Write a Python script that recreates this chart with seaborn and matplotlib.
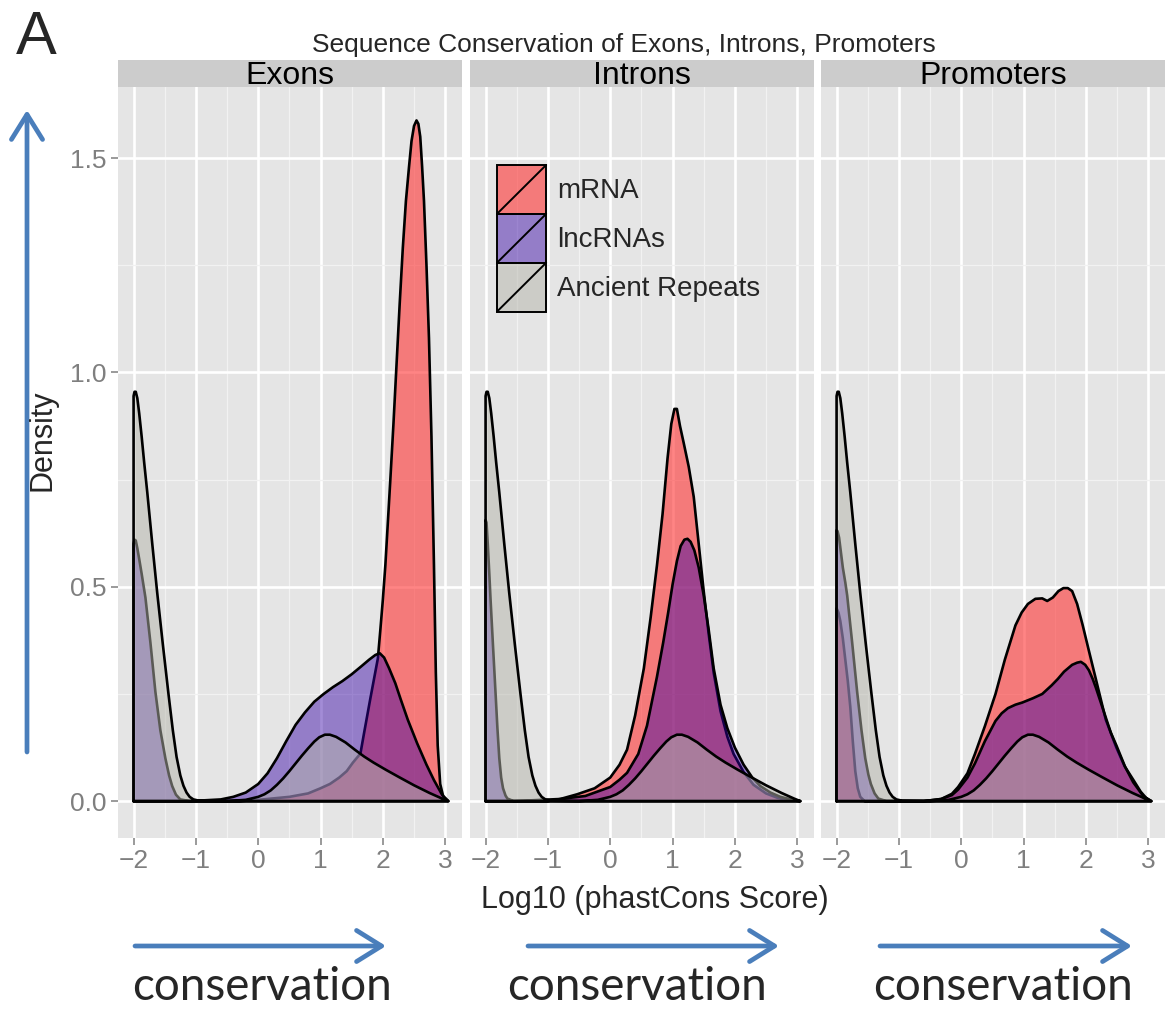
import matplotlib
matplotlib.use("Agg")
import matplotlib.pyplot as plt
import seaborn as sns
from matplotlib.patches import Rectangle, FancyArrowPatch
from matplotlib.lines import Line2D
from matplotlib.legend_handler import HandlerBase

# ---------------- data ----------------
panels = ["Exons", "Introns", "Promoters"]
series = ["mRNA", "lncRNAs", "Ancient Repeats"]
x_ticks = [-2, -1, 0, 1, 2, 3]
x_minor = [-1.5, -0.5, 0.5, 1.5, 2.5]
y_ticks = [0.0, 0.5, 1.0, 1.5]
y_minor = [0.25, 0.75, 1.25]
y_tick_labels = ["0.0", "0.5", "1.0", "1.5"]

# Ancient repeats (same in every panel)
ar_x = [-2, -1.985, -1.965, -1.94, -1.91, -1.87, -1.83, -1.78, -1.70, -1.62, -1.53,
        -1.44, -1.37, -1.31, -1.25, -1.2, -1.15, -1.1, -1.04, -0.95, -0.5, -0.2, 0.0,
        0.1, 0.2, 0.3, 0.4, 0.5, 0.6, 0.7, 0.8, 0.9, 0.98, 1.07, 1.15, 1.25, 1.4,
        1.55, 1.7, 1.85, 2.05, 2.26, 2.5, 2.75, 2.95, 3.05]
ar_y = [0.945, 0.955, 0.955, 0.94, 0.905, 0.85, 0.79, 0.72, 0.60, 0.485, 0.365,
        0.25, 0.165, 0.103, 0.06, 0.036, 0.02, 0.01, 0.004, 0.001, 0.0, 0.003, 0.01,
        0.016, 0.025, 0.038, 0.053, 0.07, 0.088, 0.106, 0.123, 0.139, 0.149, 0.155,
        0.155, 0.15, 0.137, 0.12, 0.104, 0.09, 0.073, 0.056, 0.037, 0.019, 0.006, 0.0]

# Exons
exons_mrna_x = [-2, -1.0, -0.3, 0.0, 0.5, 0.8, 1.0, 1.15, 1.3, 1.42, 1.52, 1.64, 1.7,
                1.8, 1.92, 1.96, 2.0, 2.04, 2.08, 2.12, 2.17, 2.22, 2.27, 2.32, 2.37,
                2.42, 2.46, 2.5, 2.54, 2.57, 2.6, 2.63, 2.66, 2.7, 2.74, 2.78, 2.82,
                2.85, 2.88, 2.92, 2.97, 3.05]
exons_mrna_y = [0.0, 0.0, 0.0, 0.003, 0.01, 0.018, 0.03, 0.04, 0.055, 0.07, 0.09, 0.111,
                0.16, 0.24, 0.333, 0.4, 0.47, 0.55, 0.65, 0.75, 0.88, 1.02, 1.16, 1.29,
                1.40, 1.48, 1.54, 1.575, 1.588, 1.58, 1.55, 1.48, 1.40, 1.25, 1.08, 0.85,
                0.55, 0.3, 0.13, 0.04, 0.01, 0.0]
exons_lnc_x = [-2, -1.985, -1.965, -1.94, -1.91, -1.87, -1.81, -1.73, -1.65, -1.57,
               -1.49, -1.43, -1.38, -1.32, -1.25, -1.1, -0.6, -0.4, -0.2, 0.0, 0.15, 0.3,
               0.45, 0.6, 0.75, 0.9, 1.05, 1.2, 1.35, 1.5, 1.65, 1.78, 1.88, 1.95, 2.02,
               2.1, 2.2, 2.29, 2.4, 2.55, 2.7, 2.82, 2.95, 3.05]
exons_lnc_y = [0.6, 0.61, 0.608, 0.59, 0.565, 0.53, 0.475, 0.37, 0.255, 0.165, 0.1,
               0.06, 0.035, 0.015, 0.004, 0.0, 0.004, 0.01, 0.02, 0.04, 0.065, 0.1, 0.14,
               0.178, 0.207, 0.232, 0.25, 0.266, 0.28, 0.296, 0.314, 0.33, 0.341, 0.345,
               0.335, 0.31, 0.275, 0.236, 0.19, 0.135, 0.085, 0.049, 0.015, 0.0]

# Introns
introns_mrna_x = [-2, -1.0, -0.8, -0.53, -0.25, 0.0, 0.15, 0.27, 0.4, 0.54, 0.65, 0.75,
                  0.84, 0.92, 0.98, 1.03, 1.07, 1.12, 1.18, 1.26, 1.34, 1.42, 1.5, 1.58,
                  1.66, 1.77, 1.88, 1.98, 2.14, 2.3, 2.5, 2.68, 2.85, 3.05]
introns_mrna_y = [0.0, 0.0, 0.005, 0.016, 0.03, 0.055, 0.085, 0.12, 0.2, 0.31, 0.43,
                  0.55, 0.67, 0.8, 0.88, 0.915, 0.915, 0.875, 0.835, 0.78, 0.71, 0.6,
                  0.49, 0.39, 0.3, 0.21, 0.15, 0.11, 0.068, 0.038, 0.018, 0.008, 0.003,
                  0.0]
introns_lnc_x = [-2, -1.985, -1.965, -1.94, -1.92, -1.88, -1.84, -1.81, -1.78, -1.75,
                 -1.72, -1.68, -1.65, -1.55, -0.8, -0.4, 0.0, 0.15, 0.27, 0.45, 0.59,
                 0.75, 0.85, 0.93, 1.0, 1.07, 1.13, 1.19, 1.24, 1.29, 1.35, 1.42, 1.5,
                 1.58, 1.66, 1.77, 1.88, 2.0, 2.14, 2.28, 2.41, 2.57, 2.73, 2.9, 3.05]
introns_lnc_y = [0.656, 0.65, 0.6, 0.53, 0.47, 0.36, 0.252, 0.17, 0.1, 0.055, 0.03,
                 0.013, 0.006, 0.0, 0.005, 0.012, 0.033, 0.05, 0.066, 0.11, 0.176, 0.29,
                 0.37, 0.44, 0.505, 0.56, 0.595, 0.61, 0.612, 0.605, 0.585, 0.545, 0.48,
                 0.4, 0.31, 0.225, 0.17, 0.125, 0.085, 0.055, 0.035, 0.02, 0.01, 0.004,
                 0.0]

# Promoters
promoters_mrna_x = [-2, -1.97, -1.94, -1.9, -1.86, -1.82, -1.78, -1.74, -1.7, -1.66,
                    -1.62, -1.55, -0.6, -0.32, -0.15, -0.05, 0.1, 0.22, 0.38, 0.55, 0.7,
                    0.87, 0.97, 1.07, 1.19, 1.3, 1.38, 1.47, 1.56, 1.64, 1.71, 1.78,
                    1.86, 1.95, 2.05, 2.16, 2.32, 2.49, 2.62, 2.76, 2.88, 2.97, 3.05]
promoters_mrna_y = [0.45, 0.44, 0.42, 0.38, 0.33, 0.28, 0.22, 0.14, 0.07, 0.03, 0.01,
                    0.0, 0.0, 0.005, 0.017, 0.033, 0.065, 0.11, 0.175, 0.25, 0.33, 0.41,
                    0.44, 0.46, 0.472, 0.473, 0.467, 0.475, 0.49, 0.497, 0.497, 0.49,
                    0.46, 0.41, 0.35, 0.285, 0.19, 0.125, 0.082, 0.05, 0.022, 0.007, 0.0]
promoters_lnc_x = [-2, -1.985, -1.96, -1.93, -1.9, -1.86, -1.83, -1.75, -1.67, -1.6,
                   -1.54, -1.49, -1.45, -1.39, -1.33, -1.2, -0.6, -0.32, -0.15, -0.05,
                   0.1, 0.22, 0.38, 0.55, 0.65, 0.75, 0.87, 0.98, 1.15, 1.3, 1.45, 1.55,
                   1.65, 1.78, 1.86, 1.92, 1.99, 2.05, 2.11, 2.16, 2.24, 2.32, 2.4, 2.49,
                   2.63, 2.76, 2.92, 3.05]
promoters_lnc_y = [0.632, 0.63, 0.615, 0.58, 0.545, 0.51, 0.48, 0.37, 0.255, 0.165,
                   0.1, 0.062, 0.04, 0.018, 0.006, 0.0, 0.0, 0.005, 0.014, 0.027, 0.055,
                   0.088, 0.14, 0.187, 0.205, 0.217, 0.225, 0.23, 0.24, 0.25, 0.27,
                   0.285, 0.302, 0.318, 0.323, 0.325, 0.318, 0.305, 0.285, 0.265, 0.23,
                   0.195, 0.16, 0.13, 0.08, 0.044, 0.012, 0.0]

curves = {
    "Exons": [(exons_mrna_x, exons_mrna_y), (exons_lnc_x, exons_lnc_y), (ar_x, ar_y)],
    "Introns": [(introns_mrna_x, introns_mrna_y), (introns_lnc_x, introns_lnc_y), (ar_x, ar_y)],
    "Promoters": [(promoters_mrna_x, promoters_mrna_y), (promoters_lnc_x, promoters_lnc_y), (ar_x, ar_y)],
}

# ---------------- style ----------------
sns.set_theme(style="darkgrid", rc={"axes.facecolor": "#E5E5E5", "grid.color": "white"})
plt.rcParams["font.family"] = ["Liberation Sans", "DejaVu Sans"]

fills = [((1.0, 0.2, 0.2), 0.6), ((0.2, 0.0, 0.65), 0.45), ((0.71, 0.71, 0.67), 0.5)]
grey_txt = "#7F7F7F"
blue = "#4A7EBB"

W, H = 1171, 1010
fig = plt.figure(figsize=(W / 100, H / 100), dpi=100)
fig.patch.set_facecolor("white")


def fx(px):
    return px / W


def fy(py):
    return 1 - py / H


panel_px = [(118, 462), (470, 814), (821, 1165)]
p_top, p_bot, s_top = 87, 838, 60
XLIM = (-2.25, 3.27)
YLIM = (-0.086, 1.666)

for k, (name, (l, r)) in enumerate(zip(panels, panel_px)):
    ax = fig.add_axes([fx(l), fy(p_bot), (r - l) / W, (p_bot - p_top) / H])
    ax.set_facecolor("#E5E5E5")
    ax.set_xlim(*XLIM)
    ax.set_ylim(*YLIM)
    ax.set_xticks(x_ticks)
    ax.set_xticks(x_minor, minor=True)
    ax.set_yticks(y_ticks)
    ax.set_yticks(y_minor, minor=True)
    ax.set_xticklabels([f"{t}".replace("-", "\u2212") for t in x_ticks])
    if k == 0:
        ax.set_yticklabels(y_tick_labels)
    else:
        ax.set_yticklabels([])
    ax.grid(which="major", color="white", lw=1.9)
    ax.grid(which="minor", color="#F2F2F2", lw=0.9)
    ax.set_axisbelow(True)
    for sp in ax.spines.values():
        sp.set_visible(False)
    ax.tick_params(axis="both", which="major", length=5, width=1.1, color=grey_txt,
                   labelcolor=grey_txt, labelsize=19, pad=3,
                   left=(k == 0), bottom=True)
    ax.tick_params(axis="both", which="minor", length=0)
    if k != 0:
        ax.tick_params(axis="y", which="major", length=0)

    for i, (xs, ys) in enumerate(curves[name]):
        px = [xs[0]] + list(xs) + [xs[0]]
        py = [0.0] + list(ys) + [0.0]
        col, a = fills[i]
        ax.fill(px, py, facecolor=col, alpha=a, edgecolor="none", zorder=3 + 2 * i)
        sns.lineplot(x=px, y=py, sort=False, estimator=None, color="black", lw=1.9,
                     ax=ax, zorder=4 + 2 * i, legend=False)
    ax.set_xlabel("")
    ax.set_ylabel("")

    sax = fig.add_axes([fx(l), fy(p_top), (r - l) / W, (p_top - s_top) / H])
    sax.set_facecolor("#CCCCCC")
    sax.set_xticks([])
    sax.set_yticks([])
    sax.grid(False)
    for sp in sax.spines.values():
        sp.set_visible(False)
    sax.text(0.5, 0.42, name, ha="center", va="center", fontsize=23, color="black",
             transform=sax.transAxes)


# ---------------- legend ----------------
class KeyHandler(HandlerBase):
    def create_artists(self, legend, orig_handle, xdescent, ydescent, width, height,
                       fontsize, trans):
        rect = Rectangle((-xdescent, -ydescent), width, height,
                         facecolor=orig_handle.get_facecolor(), edgecolor="black",
                         lw=1.4, transform=trans)
        diag = Line2D([-xdescent, -xdescent + width], [-ydescent, -ydescent + height],
                      color="black", lw=1.4, transform=trans)
        return [rect, diag]


handles = [Rectangle((0, 0), 1, 1, facecolor=(*c, a)) for c, a in fills]
leg = fig.legend(handles, series, loc="upper left",
                 bbox_to_anchor=(fx(497), fy(165)), bbox_transform=fig.transFigure,
                 frameon=False, fontsize=20, handlelength=1.77, handleheight=2.33,
                 labelspacing=0.0, handletextpad=0.4, borderpad=0.0, borderaxespad=0.0,
                 handler_map={Rectangle: KeyHandler()})

# ---------------- texts ----------------
fig.text(fx(16), fy(54), "A", fontsize=44, ha="left", va="baseline")
fig.text(fx(624), fy(45), "Sequence Conservation of Exons, Introns, Promoters",
         fontsize=19, ha="center", va="center")
fig.text(fx(42), fy(440), "Density", fontsize=22, rotation=90, ha="center", va="center")
fig.text(fx(655), fy(900), "Log10 (phastCons Score)", fontsize=22, ha="center",
         va="center")

# blue annotation arrows
arrow_kw = dict(arrowstyle="->,head_length=0.45,head_width=0.28", mutation_scale=40,
                color=blue, lw=3.4, transform=fig.transFigure, shrinkA=0, shrinkB=0)
fig.add_artist(FancyArrowPatch((fx(27), fy(752)), (fx(27), fy(110)), **arrow_kw))
for (x0, x1), cx in zip([(135, 386), (528, 779), (880, 1132)], [262, 637, 1003]):
    fig.add_artist(FancyArrowPatch((fx(x0), fy(946)), (fx(x1), fy(946)), **arrow_kw))
    fig.text(fx(cx), fy(987), "conservation", fontsize=33, ha="center", va="center",
             family=["Lato", "DejaVu Sans"])

fig.savefig("out.png", dpi=100)
